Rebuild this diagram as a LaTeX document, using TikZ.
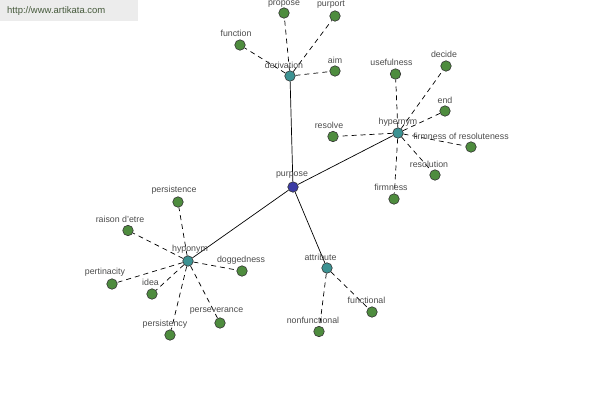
\documentclass[tikz,border=0pt]{standalone}
\usepackage{fontspec}
\setmainfont{Liberation Sans}
\usetikzlibrary{backgrounds}
\definecolor{leafgreen}{RGB}{78,140,62}
\definecolor{hubteal}{RGB}{60,146,146}
\definecolor{rootblue}{RGB}{60,60,165}
\definecolor{labelgray}{RGB}{75,75,75}
\definecolor{wmbg}{RGB}{236,236,236}
\definecolor{wmtext}{RGB}{70,90,60}
\tikzset{
  dot/.style={circle, draw=black!80, line width=0.6pt, minimum size=10.5pt, inner sep=0pt},
  leaf/.style={dot, fill=leafgreen},
  hub/.style={dot, fill=hubteal},
  root/.style={dot, fill=rootblue},
  lbl/.style={font=\fontsize{8.8}{9}\selectfont, text=labelgray, inner sep=0pt},
  solidlink/.style={draw=black, line width=0.7pt},
  dashlink/.style={draw=black, line width=0.7pt, dash pattern=on 5pt off 4pt},
}
\begin{document}
\begin{tikzpicture}[x=1pt, y=-1pt]
\useasboundingbox (0,0) rectangle (600,400);
% nodes
\node[root] (purpose) at (293,187) {};
\node[hub] (derivation) at (290,76) {};
\node[hub] (hypernym) at (398,133) {};
\node[hub] (hyponym) at (188,261) {};
\node[hub] (attribute) at (327,268) {};
% derivation
\node[leaf] (propose) at (284,13) {};
\node[leaf] (purport) at (335,16) {};
\node[leaf] (function) at (240,45) {};
\node[leaf] (aim) at (335,71) {};
% hypernym
\node[leaf] (usefulness) at (395.5,74) {};
\node[leaf] (decide) at (446,66) {};
\node[leaf] (end) at (445,111) {};
\node[leaf] (resolve) at (333,136.5) {};
\node[leaf] (firmres) at (471,147) {};
\node[leaf] (resolution) at (435,175) {};
\node[leaf] (firmness) at (394,199) {};
% hyponym
\node[leaf] (persistence) at (178,202) {};
\node[leaf] (raison) at (128,230.5) {};
\node[leaf] (pertinacity) at (112,284) {};
\node[leaf] (idea) at (152,294) {};
\node[leaf] (persistency) at (170,335) {};
\node[leaf] (perseverance) at (220,323) {};
\node[leaf] (doggedness) at (242,271) {};
% attribute
\node[leaf] (functional) at (372,312) {};
\node[leaf] (nonfunctional) at (319,331.5) {};
% labels
\node[lbl] (l-purpose) at (292,175.5) {purpose};
\node[lbl] (l-derivation) at (284,65) {derivation};
\node[lbl] (l-hypernym) at (398,122) {hypernym};
\node[lbl] (l-hyponym) at (190,249.5) {hyponym};
\node[lbl] (l-attribute) at (320.5,257) {attribute};
\node[lbl] (l-propose) at (284,4.5) {propose};
\node[lbl] (l-purport) at (331,4.5) {purport};
\node[lbl] (l-function) at (236,33.5) {function};
\node[lbl] (l-aim) at (335,60) {aim};
\node[lbl] (l-usefulness) at (391.5,62.5) {usefulness};
\node[lbl] (l-decide) at (444,54.5) {decide};
\node[lbl] (l-end) at (445,100) {end};
\node[lbl] (l-resolve) at (329,125) {resolve};
\node[lbl] (l-firmres) at (461,136) {firmness of resoluteness};
\node[lbl] (l-resolution) at (429,164) {resolution};
\node[lbl] (l-firmness) at (391,187) {firmness};
\node[lbl] (l-persistence) at (174,190.5) {persistence};
\node[lbl] (l-raison) at (120,219) {raison d'etre};
\node[lbl] (l-pertinacity) at (105,272.5) {pertinacity};
\node[lbl] (l-idea) at (150.5,282.5) {idea};
\node[lbl] (l-persistency) at (165,324.5) {persistency};
\node[lbl] (l-perseverance) at (216.5,311.5) {perseverance};
\node[lbl] (l-doggedness) at (241,260) {doggedness};
\node[lbl] (l-functional) at (366.5,300.5) {functional};
\node[lbl] (l-nonfunctional) at (313,320) {nonfunctional};
% watermark and links
\begin{scope}[on background layer]
  \fill[wmbg] (0,0) rectangle (138,21);
  \node[font=\fontsize{9.5}{10}\selectfont, text=wmtext, anchor=west, inner sep=0pt] (wm) at (7,11) {http://www.artikata.com};
  \draw[solidlink] (purpose) -- (derivation);
  \draw[solidlink] (purpose) -- (hypernym);
  \draw[solidlink] (purpose) -- (hyponym);
  \draw[solidlink] (purpose) -- (attribute);
  \foreach \c in {propose,purport,function,aim}
    \draw[dashlink] (derivation) -- (\c);
  \foreach \c in {usefulness,decide,end,resolve,firmres,resolution,firmness}
    \draw[dashlink] (hypernym) -- (\c);
  \foreach \c in {persistence,raison,pertinacity,idea,persistency,perseverance,doggedness}
    \draw[dashlink] (hyponym) -- (\c);
  \foreach \c in {functional,nonfunctional}
    \draw[dashlink] (attribute) -- (\c);
\end{scope}
\end{tikzpicture}
\end{document}
